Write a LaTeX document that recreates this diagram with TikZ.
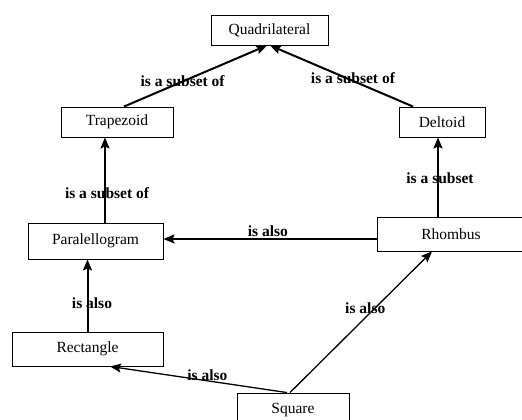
\documentclass[tikz,border=0pt]{standalone}
\usepackage{fontspec}
\setmainfont{Liberation Serif}
\usetikzlibrary{arrows.meta}
\begin{document}
\begin{tikzpicture}[x=1pt,y=-1pt,
  box/.style={draw,line width=0.9pt,inner sep=0pt,font=\fontsize{15.5}{15.5}\selectfont},
  arr/.style={line width=2pt,-{Stealth[length=11pt,width=9pt,inset=2pt]}},
  tarr/.style={line width=1.3pt,-{Stealth[length=11pt,width=9pt,inset=2pt]}},
  lbl/.style={font=\bfseries\fontsize{15.5}{15.5}\selectfont,inner sep=0pt}]
\useasboundingbox (0,0) rectangle (522,420);
\clip (0,0) rectangle (522,420);
\fill[white] (0,0) rectangle (522,420);
\node[box,minimum width=117pt,minimum height=30pt] (quad) at (269.5,30) {Quadrilateral};
\node[box,minimum width=112pt,minimum height=30pt] (trap) at (117,122) {Trapezoid};
\node[box,minimum width=86pt,minimum height=30pt] (delt) at (442,122) {Deltoid};
\node[box,minimum width=135pt,minimum height=36pt] (para) at (95.5,241) {Paralellogram};
\node[box,minimum width=148pt,minimum height=34pt] (rhomb) at (451,234) {Rhombus};
\node[box,minimum width=151pt,minimum height=34pt] (rect) at (87.5,349) {Rectangle};
\node[box,minimum width=112pt,minimum height=34pt] (square) at (293,410) {Square};
\draw[arr] ([xshift=7pt]trap.north) -- node[lbl,pos=0.41]{is a subset of} ([xshift=-2.5pt]quad.south);
\draw[arr] ([xshift=-29pt]delt.north) -- node[lbl,pos=0.42,yshift=3pt]{is a subset of} ([xshift=0.5pt]quad.south);
\draw[arr] ([xshift=9.5pt]para.north) -- node[lbl,pos=0.35,xshift=2pt]{is a subset of} ([xshift=9.5pt]para.north |- trap.south);
\draw[arr] ([xshift=-4pt]delt.south |- rhomb.north) -- node[lbl,pos=0.49,xshift=2pt]{is a subset} ([xshift=-4pt]delt.south);
\draw[arr] ([yshift=-5pt]rhomb.west) -- node[lbl,pos=0.51,yshift=8pt]{is also} ([yshift=-5pt]rhomb.west -| para.east);
\draw[arr] (rect.north) -- node[lbl,pos=0.4,xshift=4.5pt]{is also} (rect.north |- para.south);
\draw[tarr] ([xshift=-6pt]square.north) -- node[lbl,pos=0.45,yshift=6pt]{is also} ([xshift=22.5pt]rect.south);
\draw[tarr] ([xshift=-3pt]square.north) -- node[lbl,pos=0.53,yshift=10pt]{is also} ([xshift=-19pt]rhomb.south);
\end{tikzpicture}
\end{document}
